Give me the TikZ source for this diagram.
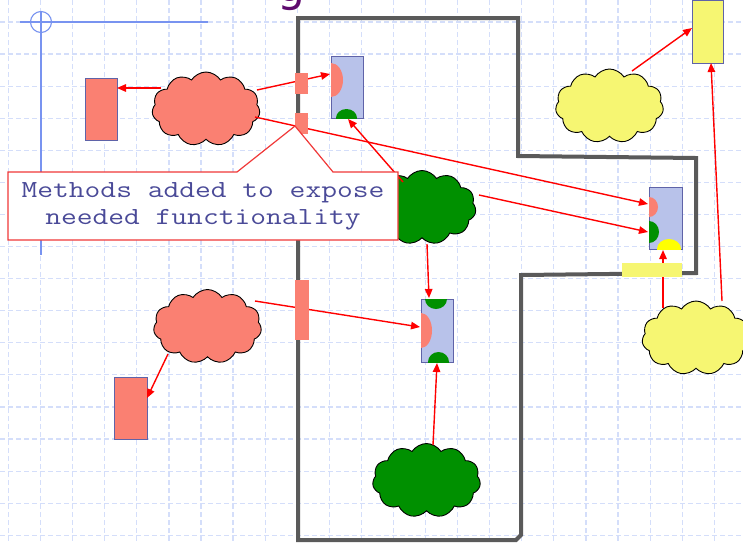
\documentclass[tikz,border=0pt]{standalone}
\usepackage{fontspec}
\usepackage{graphicx}
\newfontfamily\titlefont{DejaVu Sans}
\usetikzlibrary{shapes.symbols,arrows.meta}

\definecolor{gridblue}{HTML}{D4DEFA}
\definecolor{axisblue}{HTML}{7893F0}
\definecolor{wallgray}{HTML}{5A5A5A}
\definecolor{salmonfill}{HTML}{FA8072}
\definecolor{boxfill}{HTML}{B8C2EA}
\definecolor{boxline}{HTML}{5F63A8}
\definecolor{leafgreen}{HTML}{009000}
\definecolor{paleyellow}{HTML}{F6F672}
\definecolor{brightyellow}{HTML}{FFFF00}
\definecolor{notetext}{HTML}{4A4A98}
\definecolor{notered}{HTML}{F03838}
\definecolor{titlepurple}{HTML}{5E0A6E}

\newcommand{\wideline}[1]{\scalebox{1.25}[1]{#1}}

\tikzset{
  gridline/.style={draw=gridblue, line width=1.2pt, dash pattern=on 5pt off 3pt},
  puff/.style={cloud, cloud puffs=11, cloud puff arc=115, aspect=1.46,
    draw=black, line width=0.9pt, minimum width=108pt, minimum height=74pt,
    inner sep=0pt},
  block/.style={rectangle, draw=boxline, line width=0.9pt, inner sep=0pt, outer sep=0pt},
  module/.style={block, fill=boxfill, minimum width=32pt, minimum height=62pt},
  port/.style={rectangle, inner sep=0pt, outer sep=0pt},
  arr/.style={draw=red, line width=1.4pt, -{Triangle[length=9pt,width=7.5pt]}},
}

\begin{document}
\begin{tikzpicture}[x=1pt, y=-1pt]
\useasboundingbox (0,0) rectangle (743,542);

% background grid
\foreach \k in {0,...,22} \draw[gridline] ({8.5+32.08*\k},0) -- ({8.5+32.08*\k},542);
\foreach \k in {0,...,16} \draw[gridline] (0,{22+32.08*\k}) -- (743,{22+32.08*\k});

% crosshair guide
\draw[axisblue, line width=1.3pt] (41,12) -- (41,255);
\draw[axisblue, line width=1.3pt] (20,22) -- (208,22);
\draw[axisblue, line width=1.1pt] (41,22) circle [radius=10.5pt];

% title fragment
\node[text=titlepurple, font=\titlefont\fontsize{44}{44}\selectfont, anchor=base, inner sep=0pt]
  (title) at (291,1) {g};

% system boundary
\draw[wallgray, line width=4pt, line join=miter]
  (298,18) -- (518,18) -- (518,156) -- (696,158) -- (696,273) -- (521,275)
  -- (521,535) -- (516,540) -- (298,540) -- cycle;

% clouds
\node[puff, fill=salmonfill] (c1) at (206,109) {};
\node[puff, fill=leafgreen] (c2) at (422,207.5) {};
\node[puff, fill=salmonfill] (c3) at (207.5,326.5) {};
\node[puff, fill=leafgreen] (c4) at (426.5,480.5) {};
\node[puff, fill=paleyellow] (c5) at (609.5,106) {};
\node[puff, fill=paleyellow] (c6) at (696,338) {};

% plain blocks
\node[block, fill=salmonfill, minimum width=32pt, minimum height=62pt] (r1) at (101,109) {};
\node[block, fill=salmonfill, minimum width=33pt, minimum height=62pt] (r2) at (130.5,408) {};
\node[block, fill=paleyellow, minimum width=31pt, minimum height=63pt] (y1) at (707.5,31.5) {};

% modules with their interfaces
\node[module] (b1) at (347,87) {};
\node[module, minimum height=63pt] (b2) at (437,330.5) {};
\node[module, minimum width=33pt] (b3) at (665.5,218) {};

\begin{scope}
  \clip (b1.south west) rectangle (b1.north east);
  \fill[salmonfill] (331,80) ellipse [x radius=12pt, y radius=17pt];
  \fill[leafgreen] (346.5,118) ellipse [x radius=10.5pt, y radius=9pt];
\end{scope}
\begin{scope}
  \clip (b2.south west) rectangle (b2.north east);
  \fill[leafgreen] (436,299) ellipse [x radius=11pt, y radius=10pt];
  \fill[salmonfill] (421,330.5) ellipse [x radius=11pt, y radius=17.5pt];
  \fill[leafgreen] (438.5,362) ellipse [x radius=10.5pt, y radius=10pt];
\end{scope}
\begin{scope}
  \clip (b3.south west) rectangle (b3.north east);
  \fill[salmonfill] (649,207) ellipse [x radius=9pt, y radius=10pt];
  \fill[leafgreen] (649,232) ellipse [x radius=10pt, y radius=11pt];
  \fill[brightyellow] (669,249) ellipse [x radius=12pt, y radius=10pt];
\end{scope}

% connector end points
\coordinate (b1s) at (330,74);
\coordinate (b1g) at (348,119);
\coordinate (b2t) at (429,298);
\coordinate (b2s) at (420,327);
\coordinate (b2g) at (437,363);
\coordinate (b3s) at (648,204);
\coordinate (b3g) at (648,232);
\coordinate (b3y) at (663,250);
\coordinate (c1a) at (161,88);
\coordinate (c1b) at (257,90);
\coordinate (c1c) at (255,117);
\coordinate (c2a) at (403,182);
\coordinate (c2b) at (479,195);
\coordinate (c2c) at (427,244);
\coordinate (c3a) at (255,301);
\coordinate (c3b) at (168,354);
\coordinate (c4a) at (433,445);
\coordinate (c5a) at (632,71);
\coordinate (c6a) at (663,308);
\coordinate (c6b) at (722,301);

% connectors
\draw[arr] (c1a) -- (r1.east |- c1a);
\draw[arr] (c1b) -- (b1s);
\draw[arr] (c1c) -- (b3s);
\draw[arr] (c2a) -- (b1g);
\draw[arr] (c2b) -- (b3g);
\draw[arr] (c2c) -- (b2t);
\draw[arr] (c3a) -- (b2s);
\draw[arr] (c3b) -- (r2.east |- 0,398);
\draw[arr] (c4a) -- (b2g);
\draw[arr] (c5a) -- (y1.west |- 0,28);
\draw[arr] (c6a) -- (b3y);
\draw[arr] (c6b) -- (y1.south -| 711,0);

% exposed methods on the boundary
\node[port, fill=salmonfill, minimum width=13pt, minimum height=21pt] (s1) at (301.5,83.5) {};
\node[port, fill=salmonfill, minimum width=13pt, minimum height=21pt] (s2) at (301.5,123.5) {};
\node[port, fill=salmonfill, minimum width=14pt, minimum height=60pt] (s3) at (302,310) {};
\node[port, fill=paleyellow, minimum width=60pt, minimum height=14pt] (s4) at (652,270) {};

% annotation: a callout whose pointer reaches the boundary methods
\coordinate (nw) at (8,172);
\coordinate (se) at (398,240);
\coordinate (tip) at (295,126);
\filldraw[draw=notered, fill=white, line width=1.2pt, line join=miter]
  (nw) -- (237,172) -- (tip) -- (333,172) -- (se |- nw) -- (se) -- (nw |- se) -- cycle;
\node[inner sep=0pt, align=center, text=notetext,
  font=\ttfamily\fontsize{24.5}{27}\selectfont]
  (note) at (203,206.5) {\wideline{Methods added to expose}\\\wideline{needed functionality}};

\end{tikzpicture}
\end{document}
